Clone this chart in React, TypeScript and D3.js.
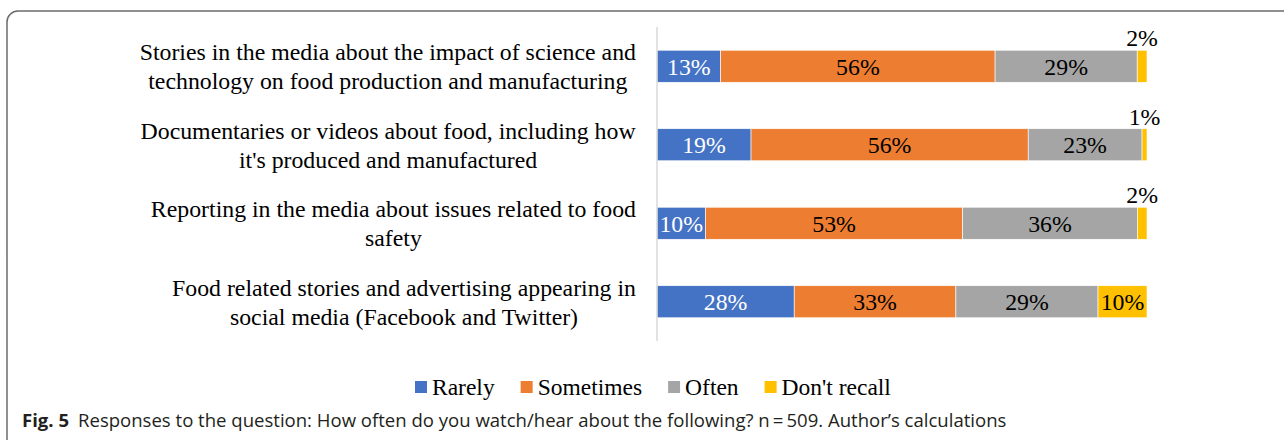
import React, { useEffect, useRef } from "react";
import * as d3 from "d3";

const categoryLines: string[][] = [
  ["Stories in the media about the impact of science and", "technology on food production and manufacturing"],
  ["Documentaries or videos about food, including how", "it's produced and manufactured"],
  ["Reporting in the media about issues related to food", "safety"],
  ["Food related stories and advertising appearing in", "social media (Facebook and Twitter)"],
];
const categories = ["c1", "c2", "c3", "c4"];
const seriesNames = ["Rarely", "Sometimes", "Often", "Don't recall"];
const rarely = [13, 19, 10, 28];
const sometimes = [56, 56, 53, 33];
const often = [29, 23, 36, 29];
const dontRecall = [2, 1, 2, 10];
const colors = ["#4472C4", "#ED7D31", "#A5A5A5", "#FFC000"];
const labelColors = ["#ffffff", "#000000", "#000000", "#000000"];
const captionBold = "Fig. 5";
const captionText = "Responses to the question: How often do you watch/hear about the following? n\u2009=\u2009509. Author\u2019s calculations";

const W = 1284;
const H = 440;
const SERIF = "'Liberation Serif', 'Times New Roman', serif";
const FS = 23.8;
const LFS = 23.5;

export default function App() {
  const ref = useRef<SVGSVGElement | null>(null);

  useEffect(() => {
    const svg = d3.select(ref.current);
    svg.selectAll("*").remove();

    // Frame
    svg.append("rect")
      .attr("x", 7).attr("y", 11).attr("width", 1300).attr("height", 460)
      .attr("rx", 11).attr("fill", "none").attr("stroke", "#6b6b6b").attr("stroke-width", 1.5);

    const rows = categories.map((c, i) => ({
      cat: c,
      Rarely: rarely[i],
      Sometimes: sometimes[i],
      Often: often[i],
      "Don't recall": dontRecall[i],
    }));
    const stack = d3.stack<any>().keys(seriesNames).offset(d3.stackOffsetExpand);
    const series = stack(rows);

    const x = d3.scaleLinear().domain([0, 1]).range([657, 1147]);
    const y = d3.scaleBand<string>().domain(categories).range([27, 341]).paddingInner(0.592).paddingOuter(0.296);

    // bars
    series.forEach((s, si) => {
      const g = svg.append("g");
      g.selectAll("rect").data(s).join("rect")
        .attr("x", (d) => x(d[0]))
        .attr("y", (d: any) => y(d.data.cat)!)
        .attr("width", (d) => x(d[1]) - x(d[0]))
        .attr("height", y.bandwidth())
        .attr("fill", colors[si])
        .attr("stroke", "#ffffff")
        .attr("stroke-width", 0.6);
    });

    // axis line
    svg.append("line").attr("x1", 657).attr("x2", 657).attr("y1", 27).attr("y2", 341)
      .attr("stroke", "#d9d9d9").attr("stroke-width", 1.5);

    // data labels
    series.forEach((s, si) => {
      s.forEach((d: any, i) => {
        const v = [rarely, sometimes, often, dontRecall][si][i];
        const cx = (x(d[0]) + x(d[1])) / 2;
        const small = v < 5;
        const yTop = y(d.data.cat)!;
        svg.append("text")
          .attr("x", cx)
          .attr("y", small ? yTop - 4 : yTop + y.bandwidth() / 2)
          .attr("dy", small ? 0 : "0.35em")
          .attr("text-anchor", "middle")
          .attr("font-family", SERIF)
          .attr("font-size", FS)
          .attr("fill", small ? "#000" : labelColors[si])
          .text(v + "%");
      });
    });

    // category labels (centered multi-line, right edge at 636)
    categoryLines.forEach((lines, i) => {
      const cy = y(categories[i])! + y.bandwidth() / 2;
      const t = svg.append("text")
        .attr("font-family", SERIF).attr("font-size", FS).attr("fill", "#000")
        .attr("text-anchor", "middle");
      lines.forEach((ln, li) => {
        t.append("tspan").attr("x", 0).attr("y", cy + (li - (lines.length - 1) / 2) * 29).attr("dy", "0.35em").text(ln);
      });
      const w = (t.node() as SVGTextElement).getBBox().width;
      t.selectAll("tspan").attr("x", 636 - w / 2);
    });

    // legend
    const lg = svg.append("g").attr("transform", `translate(415,387)`);
    let cursor = 0;
    seriesNames.forEach((n, i) => {
      const g = lg.append("g").attr("transform", `translate(${cursor},0)`);
      g.append("rect").attr("x", 0).attr("y", -6).attr("width", 12).attr("height", 12).attr("fill", colors[i]);
      const tx = g.append("text").attr("x", 17).attr("y", 0).attr("dy", "0.35em")
        .attr("font-family", SERIF).attr("font-size", LFS).attr("fill", "#000").text(n);
      const tw = (tx.node() as SVGTextElement).getComputedTextLength();
      cursor += 17 + tw + 26;
    });

    // caption
    const cap = svg.append("text").attr("x", 22).attr("y", 427)
      .attr("font-family", "'Open Sans', 'Noto Sans', sans-serif").attr("font-size", 17).attr("fill", "#231f20");
    cap.append("tspan").attr("font-weight", "bold").text(captionBold);
    cap.append("tspan").attr("dx", 9).text(captionText);
    const cw = (cap.node() as SVGTextElement).getBBox().width;
    const target = 1008 - 22;
    cap.attr("font-size", 17 * target / cw);
  }, []);

  return (
    <div style={{ position: "absolute", left: 0, top: 0 }}>
      <svg ref={ref} width={W} height={H} style={{ display: "block", background: "#fff" }} />
    </div>
  );
}
